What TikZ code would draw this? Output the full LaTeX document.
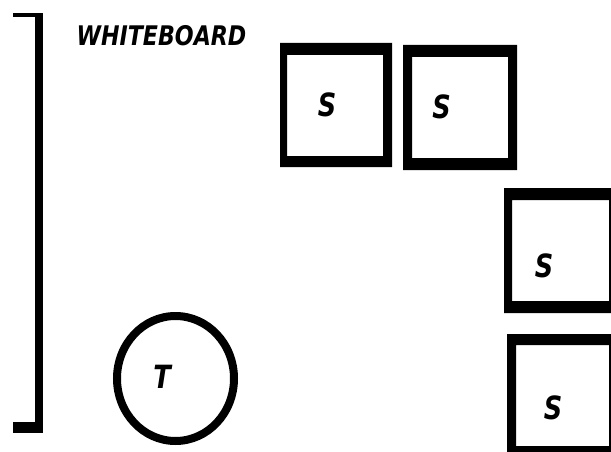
\documentclass[tikz,border=0pt]{standalone}
\usepackage{fontspec}
\setmainfont{DejaVu Sans}
\tikzset{
  lbl/.style={inner sep=0pt, font=\bfseries\itshape\fontsize{32}{32}\selectfont, xscale=0.8},
  wblbl/.style={inner sep=0pt, font=\bfseries\itshape\fontsize{27}{27}\selectfont, xscale=0.82},
  wall/.style={fill=black},
}
\begin{document}
\begin{tikzpicture}[x=1pt,y=-1pt]
\useasboundingbox[fill=white] (0,0) rectangle (611,452);
\begin{scope}
\clip (0,0) rectangle (611,452);
% bracket (whiteboard)
\fill[wall] (13,13) rectangle (43,17.5);
\fill[wall] (35,13) rectangle (43,433);
\fill[wall] (13,422) rectangle (43,433);
% student desks
\fill[wall,even odd rule] (280,43) rectangle (392,167) (287,55) rectangle (383,156);
\fill[wall,even odd rule] (403,45) rectangle (517,170) (412,57) rectangle (508,158);
\fill[wall,even odd rule] (504,188) rectangle (620,313) (512,200) rectangle (609,301);
\fill[wall,even odd rule] (507,334) rectangle (620,460) (516,345) rectangle (609,446);
% teacher
\draw[line width=8pt] (175.5,378.5) ellipse [x radius=58.5, y radius=62.5];
\end{scope}
\node[wblbl] (wb) at (161.5,35.5) {WHITEBOARD};
\node[lbl] (s1) at (327,105) {S};
\node[lbl] (s2) at (441.5,106.5) {S};
\node[lbl] (s3) at (544,265.5) {S};
\node[lbl] (s4) at (553,407.5) {S};
\node[lbl] (t) at (162,377) {T};
\end{tikzpicture}
\end{document}
